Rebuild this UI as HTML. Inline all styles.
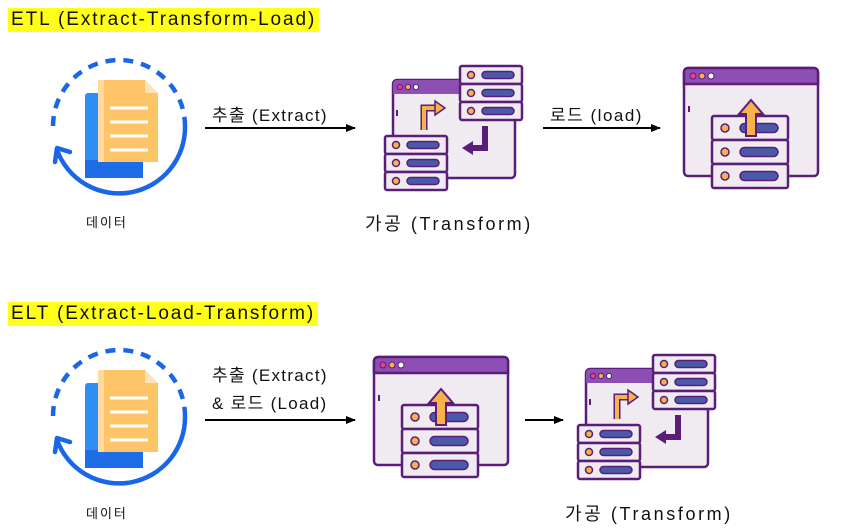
<!DOCTYPE html>
<html><head><meta charset="utf-8"><style>
body{margin:0;width:842px;height:528px;background:#fff;position:relative;overflow:hidden;font-family:"Liberation Sans","Noto Sans CJK KR",sans-serif;}
.t{position:absolute;color:#111;white-space:nowrap;}
.hl{background:#ffff1a;font-size:19px;padding:1px 3px;letter-spacing:1.9px;}
</style></head><body>
<svg width="842" height="528" style="position:absolute;left:0;top:0">
<defs>
<marker id="ah" markerWidth="10" markerHeight="8" refX="9" refY="4" orient="auto" markerUnits="userSpaceOnUse"><path d="M0,0L10,4L0,8z" fill="#000"/></marker>
<g id="row">
 <rect x="0" y="0" width="62" height="18" rx="2" fill="#efebf1" stroke="#5a1e7a" stroke-width="2.5"/>
 <circle cx="11" cy="9" r="3.5" fill="#f7b24a" stroke="#5a1e7a" stroke-width="1.5"/>
 <rect x="22" y="5.5" width="32" height="7" rx="3.5" fill="#4a5aa8" stroke="#5a1e7a" stroke-width="1.5"/>
</g>
<g id="row2">
 <rect x="0" y="0" width="76" height="24" rx="2" fill="#efebf1" stroke="#5a1e7a" stroke-width="2.5"/>
 <circle cx="13" cy="12" r="4" fill="#f7b24a" stroke="#5a1e7a" stroke-width="1.5"/>
 <rect x="28" y="7.5" width="38" height="9" rx="4.5" fill="#4a5aa8" stroke="#5a1e7a" stroke-width="1.5"/>
</g>
<g id="data">
 <path d="M53,126 A66,66 0 0 1 185,126" fill="none" stroke="#1a66e8" stroke-width="4.5" stroke-dasharray="10 8"/>
 <path d="M185,126 A66,66 0 0 1 57,150" fill="none" stroke="#1a66e8" stroke-width="4.5"/>
 <path d="M55,162 L57,148 L70,152" fill="none" stroke="#1a66e8" stroke-width="4.5" stroke-linecap="round" stroke-linejoin="round"/>
 <rect x="85" y="93" width="58" height="85" rx="3" fill="#2f8ef5"/>
 <rect x="85" y="160" width="58" height="18" fill="#1f6de6"/>
 <path d="M98,80 H145 L158,93 V162 H98 Z" fill="#fdc567"/>
 <rect x="98" y="80" width="6" height="82" fill="#fddba0"/>
 <path d="M145,80 V93 H158 Z" fill="#fde4b8"/>
 <g stroke="#fff" stroke-width="3"><line x1="110" y1="108" x2="148" y2="108"/><line x1="110" y1="122" x2="148" y2="122"/><line x1="110" y1="136" x2="148" y2="136"/><line x1="110" y1="150" x2="148" y2="150"/></g>
</g>
<g id="trans">
 <rect x="8" y="14" width="122" height="98" rx="4" fill="#efebf1" stroke="#5a1e7a" stroke-width="2.5"/>
 <path d="M8,28 V18 a4,4 0 0 1 4,-4 H75 V28 Z" fill="#8e4fb4"/>
 <circle cx="15" cy="21" r="2.6" fill="#e83e8c" stroke="#5a1e7a"/><circle cx="23" cy="21" r="2.6" fill="#f7b24a" stroke="#5a1e7a"/><circle cx="31" cy="21" r="2.6" fill="#fff" stroke="#5a1e7a"/>
 <line x1="12" y1="44" x2="12" y2="50" stroke="#5a1e7a" stroke-width="2"/>
 <path d="M39,64 V42 H52" fill="none" stroke="#5a1e7a" stroke-width="7"/>
 <path d="M39,64 V42 H52" fill="none" stroke="#f7b24a" stroke-width="4"/>
 <path d="M50,35 L60,42 L50,49 Z" fill="#f7b24a" stroke="#5a1e7a" stroke-width="1.5"/>
 <path d="M100,60 V82 H86" fill="none" stroke="#5a1e7a" stroke-width="6"/>
 <path d="M88,75 L77,82 L88,89 Z" fill="#5a1e7a"/>
 <use href="#row" x="75" y="0"/><use href="#row" x="75" y="18"/><use href="#row" x="75" y="36"/>
 <use href="#row" x="0" y="70"/><use href="#row" x="0" y="88"/><use href="#row" x="0" y="106"/>
</g>
<g id="load">
 <rect x="1" y="2" width="134" height="108" rx="4" fill="#efebf1" stroke="#5a1e7a" stroke-width="2.5"/>
 <path d="M1,18 V6 a4,4 0 0 1 4,-4 H131 a4,4 0 0 1 4,4 V18 Z" fill="#8e4fb4" stroke="#5a1e7a" stroke-width="2.5"/>
 <circle cx="10" cy="10" r="3" fill="#e83e8c" stroke="#5a1e7a"/><circle cx="19" cy="10" r="3" fill="#f7b24a" stroke="#5a1e7a"/><circle cx="28" cy="10" r="3" fill="#fff" stroke="#5a1e7a"/>
 <line x1="6" y1="40" x2="6" y2="46" stroke="#5a1e7a" stroke-width="2"/>
 <use href="#row2" x="29" y="50"/><use href="#row2" x="29" y="74"/><use href="#row2" x="29" y="98"/>
 <path d="M63,70 V48 H56 L68,34 L80,48 H73 V70 Z" fill="#f7b24a" stroke="#5a1e7a" stroke-width="2"/>
</g>
</defs>
<use href="#data"/>
<use href="#data" y="290"/>
<use href="#trans" x="385" y="66"/>
<use href="#trans" x="578" y="355"/>
<use href="#load" x="683" y="66"/>
<use href="#load" x="373" y="355"/>
<line x1="205" y1="128" x2="355" y2="128" stroke="#000" stroke-width="2" marker-end="url(#ah)"/>
<line x1="543" y1="128" x2="660" y2="128" stroke="#000" stroke-width="2" marker-end="url(#ah)"/>
<line x1="205" y1="420" x2="355" y2="420" stroke="#000" stroke-width="2" marker-end="url(#ah)"/>
<line x1="525" y1="420" x2="563" y2="420" stroke="#000" stroke-width="2" marker-end="url(#ah)"/>
</svg>
<div class="t hl" style="left:8px;top:8px;">ETL (Extract-Transform-Load)</div>
<div class="t hl" style="left:8px;top:302px;">ELT (Extract-Load-Transform)</div>
<div class="t" style="left:212px;top:101px;font-size:17px;letter-spacing:1.3px">추출 (Extract)</div>
<div class="t" style="left:550px;top:101px;font-size:17px;letter-spacing:1.5px">로드 (load)</div>
<div class="t" style="left:86px;top:212px;font-size:13px;letter-spacing:2px">데이터</div>
<div class="t" style="left:86px;top:503px;font-size:13px;letter-spacing:2px">데이터</div>
<div class="t" style="left:365px;top:210px;font-size:18px;letter-spacing:2.6px">가공 (Transform)</div>
<div class="t" style="left:565px;top:500px;font-size:18px;letter-spacing:2.6px">가공 (Transform)</div>
<div class="t" style="left:212px;top:361px;font-size:17px;letter-spacing:1.3px">추출 (Extract)</div>
<div class="t" style="left:212px;top:389px;font-size:17px;letter-spacing:1.3px">&amp; 로드 (Load)</div>
</body></html>
